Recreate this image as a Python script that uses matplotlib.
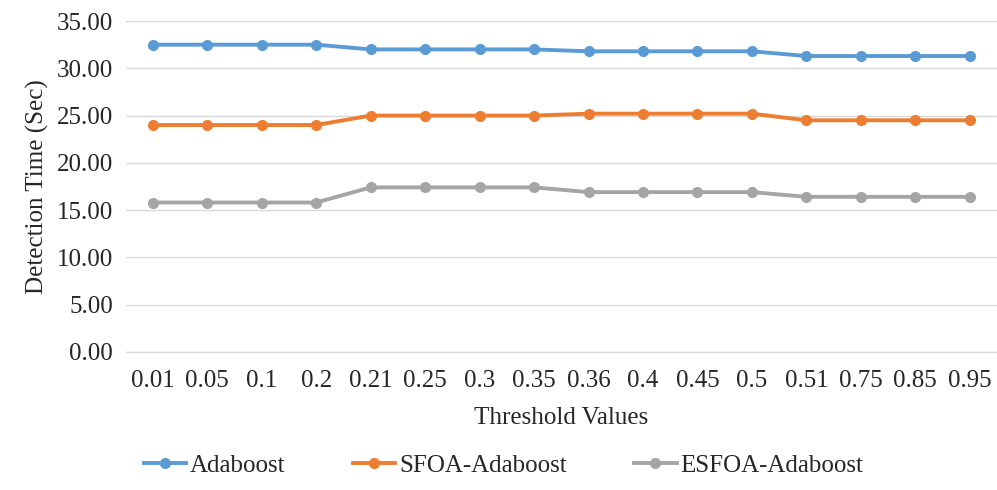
import matplotlib.pyplot as plt

thresholds = ['0.01', '0.05', '0.1', '0.2', '0.21', '0.25', '0.3', '0.35',
              '0.36', '0.4', '0.45', '0.5', '0.51', '0.75', '0.85', '0.95']
adaboost = [32.5, 32.5, 32.5, 32.5, 32.0, 32.0, 32.0, 32.0,
            31.8, 31.8, 31.8, 31.8, 31.3, 31.3, 31.3, 31.3]
sfoa = [24.0, 24.0, 24.0, 24.0, 25.0, 25.0, 25.0, 25.0,
        25.2, 25.2, 25.2, 25.2, 24.5, 24.5, 24.5, 24.5]
esfoa = [15.8, 15.8, 15.8, 15.8, 17.4, 17.4, 17.4, 17.4,
         16.9, 16.9, 16.9, 16.9, 16.4, 16.4, 16.4, 16.4]
y_ticks = [0, 5, 10, 15, 20, 25, 30, 35]

plt.rcParams['font.family'] = ['Liberation Serif', 'DejaVu Serif']
txt = '#262626'
fs = 18

fig = plt.figure(figsize=(9.97, 4.9), dpi=100)
ax = fig.add_axes([0.126, 0.282, 0.874, 0.675])

x = range(len(thresholds))
series = [(adaboost, 'Adaboost', '#5B9BD5'),
          (sfoa, 'SFOA-Adaboost', '#ED7D31'),
          (esfoa, 'ESFOA-Adaboost', '#A5A5A5')]
for vals, name, col in series:
    ax.plot(x, vals, color=col, lw=2.8, marker='o', ms=7, label=name)

ax.set_xlim(-0.5, len(thresholds) - 0.5)
ax.set_ylim(0, 35)
ax.set_yticks(y_ticks)
ax.set_yticklabels([f'{v:.2f}' for v in y_ticks], fontsize=fs, color=txt)
ax.set_xticks(list(x))
ax.set_xticklabels(thresholds, fontsize=fs, color=txt)
ax.tick_params(length=0, pad=9)
ax.tick_params(axis='x', pad=13)
ax.grid(axis='y', color='#D9D9D9', lw=1)
ax.axhline(0, color='#D9D9D9', lw=1, clip_on=False, zorder=0)
ax.set_axisbelow(True)
for s in ax.spines.values():
    s.set_visible(False)

ax.set_xlabel('Threshold Values', fontsize=fs, color=txt, labelpad=11)
ax.set_ylabel('Detection Time (Sec)', fontsize=fs, color=txt, labelpad=6)

fig.legend(loc='center', bbox_to_anchor=(0.505, 0.05), ncol=3, frameon=False,
           fontsize=fs, handlelength=1.7, columnspacing=2.7, handletextpad=0.15,
           labelcolor=txt)

fig.savefig('out.png', dpi=100)
